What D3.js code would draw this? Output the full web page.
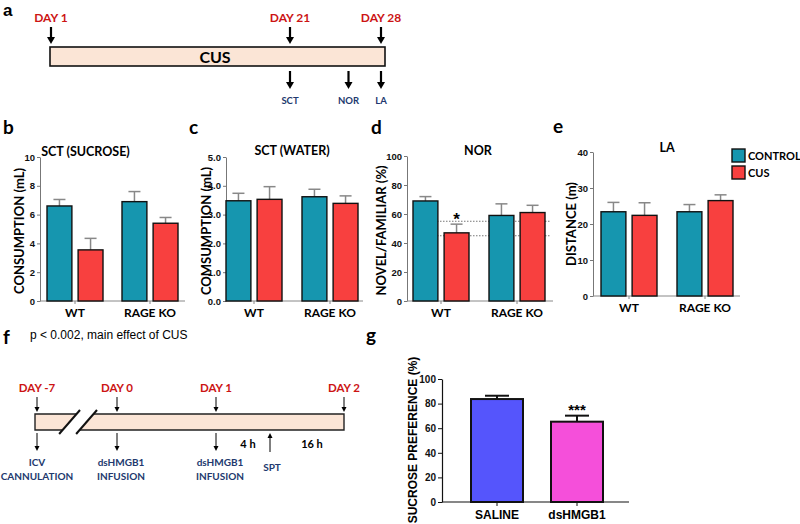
<!DOCTYPE html>
<html><head><meta charset="utf-8">
<script src="https://cdn.jsdelivr.net/npm/d3@7"></script>
<style>body{margin:0;background:#fff}svg{display:block}</style>
</head><body><svg id="c" width="800" height="524"></svg>
<script>
// ---------------- DATA ----------------
const groups = ["WT", "RAGE KO"];
const conditions = ["CONTROL", "CUS"];

const sucroseControl = [6.6, 6.9];
const sucroseControlSem = [0.45, 0.7];
const sucroseCus = [3.55, 5.4];
const sucroseCusSem = [0.8, 0.4];
const sucroseTicks = [0, 2, 4, 6, 8, 10];

const waterControl = [3.48, 3.62];
const waterControlSem = [0.26, 0.26];
const waterCus = [3.53, 3.39];
const waterCusSem = [0.44, 0.26];
const waterTicks = [0, 1, 2, 3, 4, 5];

const norControl = [69, 59];
const norControlSem = [3, 8];
const norCus = [47, 61];
const norCusSem = [6, 5];
const norTicks = [0, 20, 40, 60, 80, 100];
const norChanceLines = [45, 55];

const laControl = [23.4, 23.4];
const laControlSem = [2.6, 2.0];
const laCus = [22.4, 26.5];
const laCusSem = [3.5, 1.6];
const laTicks = [0, 10, 20, 30, 40];

const treatments = ["SALINE", "dsHMGB1"];
const preference = [83.7, 65.3];
const preferenceSem = [2.7, 4.9];
const preferenceTicks = [0, 20, 40, 60, 80, 100];

// timeline a (days)
const timelineADays = [{label: "DAY 1", day: 1}, {label: "DAY 21", day: 21}, {label: "DAY 28", day: 28}];
const timelineATests = [{label: "SCT", day: 21}, {label: "NOR", day: 25.5}, {label: "LA", day: 28}];
// timeline f (hours relative to day 0)
const timelineFDays = [{label: "DAY -7", h: -168}, {label: "DAY 0", h: 0}, {label: "DAY 1", h: 24}, {label: "DAY 2", h: 44}];
const timelineFEvents = [
  {lines: ["ICV", "CANNULATION"], h: -168},
  {lines: ["dsHMGB1", "INFUSION"], h: 0},
  {lines: ["dsHMGB1", "INFUSION"], h: 24}
];
const sptEvent = {label: "SPT", h: 28};
const intervals = [{label: "4 h", from: 24, to: 28}, {label: "16 h", from: 28, to: 44}];

// ---------------- STYLE ----------------
const TEAL = "#1696AF", RED = "#F8403F";
const condColor = d3.scaleOrdinal().domain(conditions).range([TEAL, RED]);
const DAYRED = "#CC1414", NAVY = "#22396E", PEACH = "#FBE5D6";
const CAL = "Lato, 'Open Sans', sans-serif";
const ARIAL = "Arial, 'Liberation Sans', sans-serif";

const svg = d3.select("#c");

function txt(x, y, s, o = {}) {
  return svg.append("text").attr("x", x).attr("y", y).text(s)
    .attr("font-family", o.ff || CAL).attr("font-weight", o.fw || "bold")
    .attr("font-size", o.fs || 12).attr("fill", o.fill || "#000")
    .attr("text-anchor", o.anchor || "middle");
}
function arrow(x, y1, y2, sw, hw, hh) {
  const dir = y2 > y1 ? 1 : -1;
  svg.append("line").attr("x1", x).attr("x2", x).attr("y1", y1).attr("y2", y2 - dir * hh * 0.6)
    .attr("stroke", "#000").attr("stroke-width", sw);
  svg.append("path").attr("d", `M${x - hw / 2},${y2 - dir * hh}L${x + hw / 2},${y2 - dir * hh}L${x},${y2}Z`).attr("fill", "#000");
}

// panel letters
txt(3, 16, "a", {fs: 17, anchor: "start", ff: ARIAL});
[["b", 3, 134], ["c", 189, 134], ["d", 371, 134], ["e", 553, 133], ["f", 3, 344], ["g", 366, 342]]
  .forEach(([s, x, y]) => txt(x, y, s, {fs: 19, anchor: "start", ff: CAL}));

// ---------------- PANEL A ----------------
(function () {
  const x = d3.scaleLinear().domain([1, 21, 28]).range([51, 290, 381]);
  svg.append("rect").attr("x", x(1) - 1).attr("y", 47).attr("width", x(28) + 4 - (x(1) - 1)).attr("height", 19)
    .attr("fill", PEACH).attr("stroke", "#111").attr("stroke-width", 1.6);
  txt((x(1) + x(28)) / 2 - 1, 63, "CUS", {fs: 16});
  timelineADays.forEach(d => {
    txt(x(d.day), 22, d.label, {fs: 12, fill: DAYRED});
    arrow(x(d.day), 27, 44, 2.2, 8, 7);
  });
  timelineATests.forEach(d => {
    arrow(x(d.day), 71, 89, 2.2, 8, 7);
    txt(x(d.day), 104, d.label, {fs: 9.5, fill: NAVY});
  });
})();

// ---------------- PANELS B-E ----------------
function barPanel(o) {
  const y = d3.scaleLinear().domain([0, o.max]).range([o.yBot, o.yTop]);
  const xg = d3.scalePoint().domain(groups).range(o.centers);
  const xi = d3.scaleBand().domain(conditions).range([-28, 28]).paddingInner(0.2);
  const g = svg.append("g");
  const ay = g.append("g").attr("transform", `translate(${o.axisX},0)`)
    .call(d3.axisLeft(y).tickValues(o.ticks).tickSize(3).tickSizeOuter(0).tickPadding(2));
  ay.select(".domain").attr("stroke", "#777");
  ay.selectAll(".tick line").attr("stroke", "#777");
  ay.selectAll("text").attr("font-family", ARIAL).attr("font-weight", "bold").attr("font-size", 9.5).attr("fill", "#111");
  (o.dotted || []).forEach(v => {
    g.append("line").attr("x1", xg(groups[0]) - 4).attr("x2", o.axisEnd - 2).attr("y1", y(v)).attr("y2", y(v))
      .attr("stroke", "#777").attr("stroke-width", 1).attr("stroke-dasharray", "1.5,1.5");
  });
  g.append("line").attr("x1", o.axisX).attr("x2", o.axisEnd).attr("y1", o.yBot).attr("y2", o.yBot).attr("stroke", "#888");
  groups.forEach(gr => {
    g.append("line").attr("x1", xg(gr)).attr("x2", xg(gr)).attr("y1", o.yBot).attr("y2", o.yBot + 3).attr("stroke", "#888");
    txt(xg(gr), o.yBot + 16, gr, {fs: 12});
  });
  const rows = [];
  groups.forEach((gr, i) => {
    rows.push({g: gr, c: "CONTROL", v: o.control[i], e: o.controlSem[i]});
    rows.push({g: gr, c: "CUS", v: o.cus[i], e: o.cusSem[i]});
  });
  rows.forEach(r => {
    const cx = xg(r.g) + xi(r.c) + xi.bandwidth() / 2;
    g.append("line").attr("x1", cx).attr("x2", cx).attr("y1", y(r.v)).attr("y2", y(r.v + r.e)).attr("stroke", "#888").attr("stroke-width", 1.5);
    g.append("line").attr("x1", cx - 6).attr("x2", cx + 6).attr("y1", y(r.v + r.e)).attr("y2", y(r.v + r.e)).attr("stroke", "#888").attr("stroke-width", 1.5);
  });
  g.selectAll("rect.bar").data(rows).join("rect").attr("class", "bar")
    .attr("x", d => xg(d.g) + xi(d.c)).attr("width", xi.bandwidth())
    .attr("y", d => y(d.v)).attr("height", d => o.yBot - y(d.v))
    .attr("fill", d => condColor(d.c)).attr("stroke", "#111").attr("stroke-width", 1.4);
  txt((o.centers[0] + o.centers[1]) / 2 + (o.titleDx || 0), o.titleY, o.title, {fs: 12.5});
  svg.append("text").attr("transform", `translate(${o.labelX},${(o.yTop + o.yBot) / 2 + (o.labelDy || 0)}) rotate(-90)`)
    .text(o.ylabel).attr("font-family", CAL).attr("font-weight", "bold").attr("font-size", 13).attr("text-anchor", "middle");
  return {y, xg, xi};
}

barPanel({axisX: 40, axisEnd: 185, centers: [75, 150], yTop: 157, yBot: 301, max: 10, ticks: sucroseTicks,
  control: sucroseControl, controlSem: sucroseControlSem, cus: sucroseCus, cusSem: sucroseCusSem,
  title: "SCT (SUCROSE)", titleY: 156, titleDx: -27, ylabel: "CONSUMPTION (mL)", labelX: 24, labelDy: 2});
barPanel({axisX: 226, axisEnd: 363, centers: [254, 330], yTop: 157, yBot: 301, max: 5, ticks: waterTicks,
  control: waterControl, controlSem: waterControlSem, cus: waterCus, cusSem: waterCusSem,
  title: "SCT (WATER)", titleY: 155, titleDx: 0, ylabel: "COMSUMPTION (mL)", labelX: 211, labelDy: 2});
const pd = barPanel({axisX: 407, axisEnd: 553, centers: [441, 517], yTop: 156, yBot: 301, max: 100, ticks: norTicks,
  control: norControl, controlSem: norControlSem, cus: norCus, cusSem: norCusSem, dotted: norChanceLines,
  title: "NOR", titleY: 155, titleDx: -1, ylabel: "NOVEL/FAMILIAR (%)", labelX: 386, labelDy: 2});
txt(pd.xg("WT") + pd.xi("CUS") + pd.xi.bandwidth() / 2, pd.y(norCus[0] + norCusSem[0]) + 1, "*", {fs: 17, ff: ARIAL});
barPanel({axisX: 593, axisEnd: 740, centers: [629, 705], yTop: 152, yBot: 296, max: 40, ticks: laTicks,
  control: laControl, controlSem: laControlSem, cus: laCus, cusSem: laCusSem,
  title: "LA", titleY: 152, titleDx: 0, ylabel: "DISTANCE (m)", labelX: 576, labelDy: 0});

// legend
conditions.forEach((c, i) => {
  svg.append("rect").attr("x", 732).attr("y", 149 + i * 17).attr("width", 13).attr("height", 13)
    .attr("fill", condColor(c)).attr("stroke", "#111").attr("stroke-width", 1.4);
  txt(748, 160 + i * 17, c, {fs: 11, anchor: "start"});
});

txt(30, 339, "p < 0.002, main effect of CUS", {fs: 12, fw: "normal", ff: ARIAL, anchor: "start"});

// ---------------- PANEL F ----------------
(function () {
  const x = d3.scaleLinear().domain([-168, 0, 24, 28, 44]).range([37, 117, 216, 270, 344]);
  const top = 414, bot = 430, left = x(-168) - 2, right = x(44);
  const s1 = yy => 60 + (433 - yy) / 23 * 20;
  const s2 = yy => 77 + (433 - yy) / 23 * 20;
  svg.append("path").attr("d", `M${left},${top}L${s1(top)},${top}L${s1(bot)},${bot}L${left},${bot}Z`).attr("fill", PEACH);
  svg.append("path").attr("d", `M${s2(top)},${top}L${right},${top}L${right},${bot}L${s2(bot)},${bot}Z`).attr("fill", PEACH);
  svg.append("path").attr("d", `M${s1(top)},${top}L${left},${top}L${left},${bot}L${s1(bot)},${bot}`)
    .attr("fill", "none").attr("stroke", "#222").attr("stroke-width", 1.4);
  svg.append("path").attr("d", `M${s2(top)},${top}L${right},${top}L${right},${bot}L${s2(bot)},${bot}`)
    .attr("fill", "none").attr("stroke", "#222").attr("stroke-width", 1.4);
  [s1, s2].forEach(s => svg.append("line").attr("x1", s(434)).attr("y1", 434).attr("x2", s(410)).attr("y2", 410)
    .attr("stroke", "#111").attr("stroke-width", 2));
  timelineFDays.forEach(d => {
    txt(x(d.h), 392, d.label, {fs: 11.5, fill: DAYRED});
    arrow(x(d.h), 397, 412, 1, 5, 5);
  });
  timelineFEvents.forEach(d => {
    arrow(x(d.h), 433, 451, 1, 5, 5);
    d.lines.forEach((l, i) => txt(x(d.h) + (d.h === -168 ? 0 : 4), 466 + i * 14, l, {fs: 10, fill: NAVY}));
  });
  arrow(x(sptEvent.h), 452, 433, 1, 5, 5);
  txt(x(sptEvent.h) + 2, 471, sptEvent.label, {fs: 10, fill: NAVY});
  intervals.forEach(d => txt((x(d.from) + x(d.to)) / 2 + 5, 448, d.label, {fs: 11}));
})();

// ---------------- PANEL G ----------------
(function () {
  const axisX = 442, axisEnd = 629, yTop = 379, yBot = 502;
  const y = d3.scaleLinear().domain([0, 100]).range([yBot, yTop]);
  const xb = d3.scalePoint().domain(treatments).range([497, 577]);
  const bw = 52;
  const col = d3.scaleOrdinal().domain(treatments).range(["#5555FC", "#F54FDA"]);
  const ay = svg.append("g").attr("transform", `translate(${axisX},0)`)
    .call(d3.axisLeft(y).tickValues(preferenceTicks).tickSize(4).tickSizeOuter(0).tickPadding(2));
  ay.select(".domain").attr("stroke", "#111").attr("stroke-width", 1.2);
  ay.selectAll(".tick line").attr("stroke", "#111");
  ay.selectAll("text").attr("font-family", ARIAL).attr("font-weight", "bold").attr("font-size", 10).attr("fill", "#111");
  svg.append("line").attr("x1", axisX).attr("x2", axisEnd).attr("y1", yBot).attr("y2", yBot).attr("stroke", "#111").attr("stroke-width", 1.2);
  treatments.forEach((t, i) => {
    const cx = xb(t);
    svg.append("line").attr("x1", cx).attr("x2", cx).attr("y1", yBot).attr("y2", yBot + 4).attr("stroke", "#111");
    svg.append("line").attr("x1", cx).attr("x2", cx).attr("y1", y(preference[i])).attr("y2", y(preference[i] + preferenceSem[i])).attr("stroke", "#111").attr("stroke-width", 2);
    svg.append("line").attr("x1", cx - 12).attr("x2", cx + 12).attr("y1", y(preference[i] + preferenceSem[i])).attr("y2", y(preference[i] + preferenceSem[i])).attr("stroke", "#111").attr("stroke-width", 2);
    txt(cx, 519, t, {fs: 12, ff: ARIAL});
  });
  svg.selectAll("rect.gbar").data(treatments).join("rect").attr("class", "gbar")
    .attr("x", d => xb(d) - bw / 2).attr("width", bw)
    .attr("y", (d, i) => y(preference[i])).attr("height", (d, i) => yBot - y(preference[i]))
    .attr("fill", d => col(d)).attr("stroke", "#111").attr("stroke-width", 2);
  txt(xb(treatments[1]), y(preference[1] + preferenceSem[1]) - 1, "***", {fs: 15, ff: ARIAL});
  svg.append("text").attr("transform", `translate(417,440) rotate(-90)`).text("SUCROSE PREFERENCE (%)")
    .attr("font-family", ARIAL).attr("font-weight", "bold").attr("font-size", 12).attr("text-anchor", "middle");
})();
</script></body></html>
